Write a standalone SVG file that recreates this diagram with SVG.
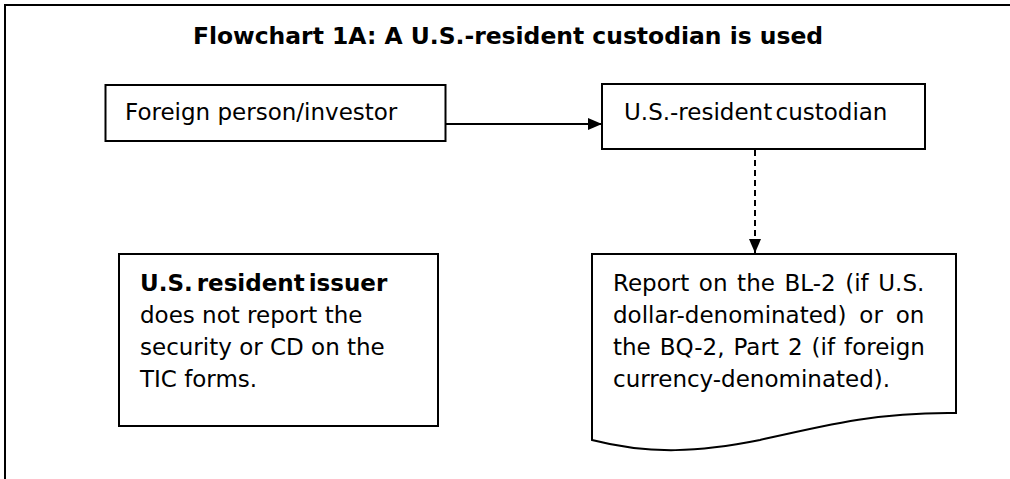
<svg xmlns="http://www.w3.org/2000/svg" width="1010" height="479" viewBox="0 0 1010 479">
<defs>
<style>
.box{fill:#fff;stroke:#000;stroke-width:2}
.t{font-family:"DejaVu Sans",Verdana,sans-serif;font-size:23px;fill:#000}
.b{font-weight:bold}
.title{font-size:23.45px}
.ln{stroke:#000;stroke-width:2;fill:none}
</style>
<marker id="ah" markerWidth="14" markerHeight="12" refX="14" refY="6" orient="auto" markerUnits="userSpaceOnUse">
<path d="M0,0 L14,6 L0,12 Z" fill="#000"/>
</marker>
</defs>
<rect width="1010" height="479" fill="#fff"/>
<path d="M5,479 V5 H1010" class="ln" stroke-width="2.5"/>
<text class="t b title" x="508" y="44" text-anchor="middle">Flowchart 1A: A U.S.-resident custodian is used</text>
<g id="connectors">
<line x1="446" y1="124" x2="602" y2="124" class="ln" marker-end="url(#ah)"/>
<line x1="755" y1="150" x2="755" y2="253" class="ln" stroke-dasharray="6,4" marker-end="url(#ah)"/>
</g>
<g id="foreign">
<rect class="box" x="105.5" y="85" width="340" height="56"/>
<text class="t" x="125" y="120">Foreign person/investor</text>
</g>
<g id="custodian">
<rect class="box" x="602" y="84" width="323" height="65"/>
<text class="t" x="624" y="120" word-spacing="-4">U.S.-resident custodian</text>
</g>
<g id="issuer">
<rect class="box" x="119" y="254" width="319" height="172"/>
<text class="t" x="140" y="291"><tspan class="b" word-spacing="-4">U.S. resident issuer</tspan><tspan x="140" dy="32">does not report the</tspan><tspan x="140" dy="32">security or CD on the</tspan><tspan x="140" dy="32">TIC forms.</tspan></text>
</g>
<g id="report">
<path class="box" d="M592,254 H956 V413 C880,412 830,424 760,440 C700,452 650,455 592,440 Z"/>
<text class="t" x="613" y="291" word-spacing="2.3">Report on the BL-2 (if U.S.</text>
<text class="t" x="613" y="323" word-spacing="5.6">dollar-denominated) or on</text>
<text class="t" x="613" y="355" word-spacing="1.7">the BQ-2, Part 2 (if foreign</text>
<text class="t" x="613" y="387">currency-denominated).</text>
</g>
</svg>
